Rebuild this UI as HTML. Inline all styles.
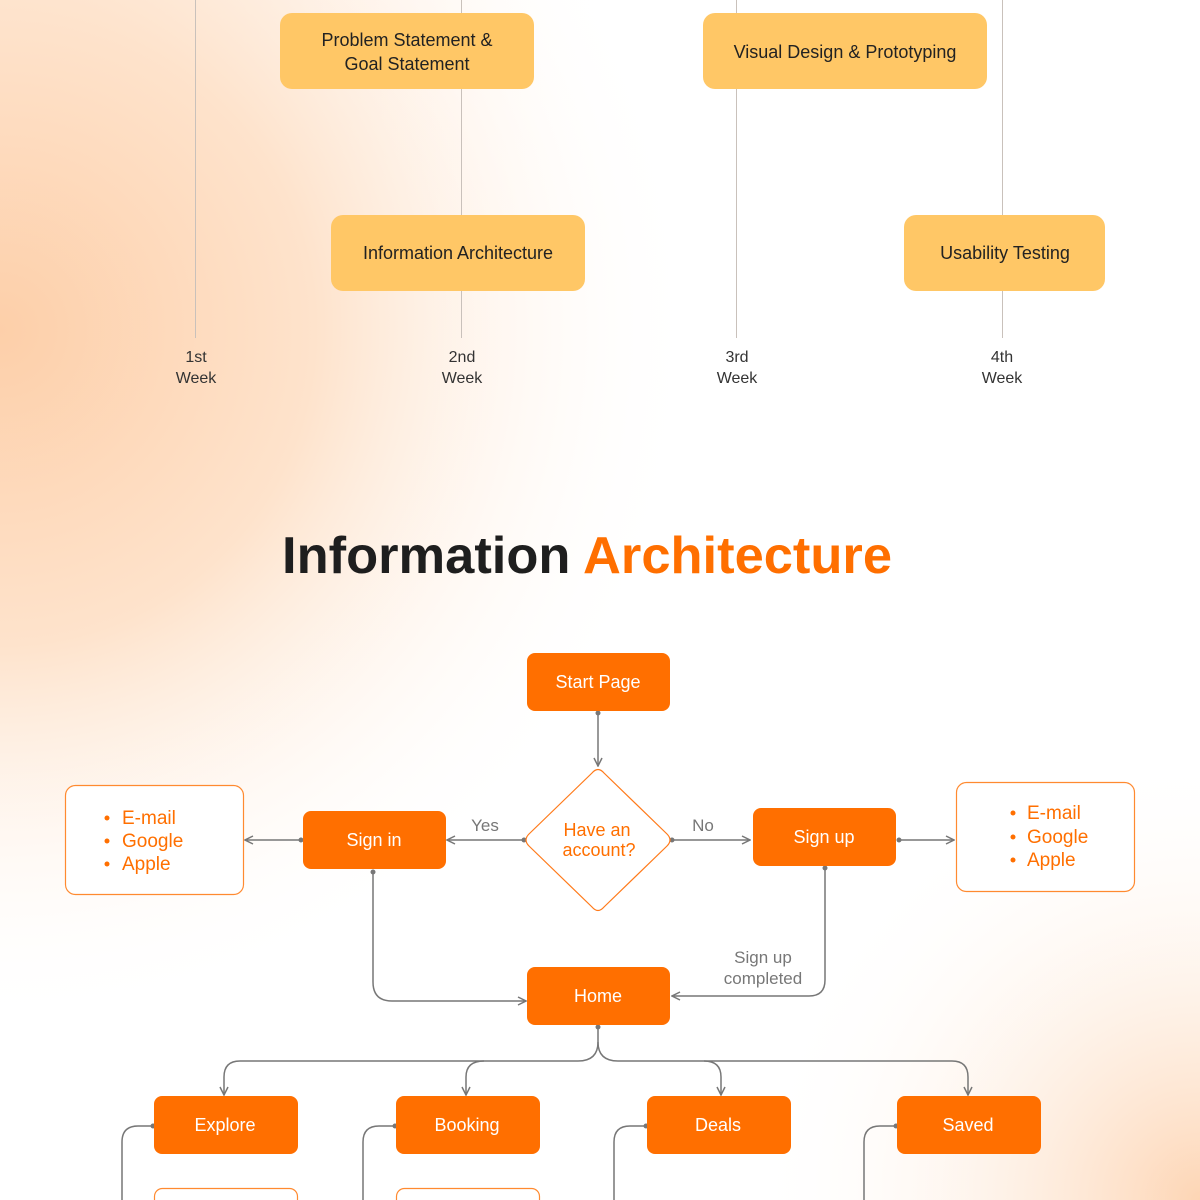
<!DOCTYPE html>
<html><head><meta charset="utf-8"><style>
html,body{margin:0;padding:0;width:1200px;height:1200px;overflow:hidden;}
body{background:#fff;}
svg{display:block;font-family:"Liberation Sans",sans-serif;}
</style></head><body>
<svg width="1200" height="1200" viewBox="0 0 1200 1200" xmlns="http://www.w3.org/2000/svg">
<defs>
<radialGradient id="g1" cx="0" cy="330" r="700" gradientUnits="userSpaceOnUse">
<stop offset="0" stop-color="#fdcfa9"/><stop offset="0.45" stop-color="#fee3cc"/><stop offset="1" stop-color="#fff" stop-opacity="0"/></radialGradient>
<radialGradient id="g2" cx="1200" cy="1200" r="450" gradientUnits="userSpaceOnUse">
<stop offset="0" stop-color="#fdd5b4"/><stop offset="1" stop-color="#fff" stop-opacity="0"/></radialGradient>
<radialGradient id="g3" cx="0" cy="0" r="600" gradientUnits="userSpaceOnUse">
<stop offset="0" stop-color="#fdd8bb"/><stop offset="1" stop-color="#fff" stop-opacity="0"/></radialGradient>
<marker id="ar" viewBox="0 0 10 10" refX="9" refY="5" markerWidth="10" markerHeight="10" markerUnits="userSpaceOnUse" orient="auto">
<path d="M1 1 L9 5 L1 9" fill="none" stroke="#777" stroke-width="1.5"/></marker>
<marker id="dt" viewBox="0 0 6 6" refX="3" refY="3" markerWidth="6" markerHeight="6" markerUnits="userSpaceOnUse"><circle cx="3" cy="3" r="2.5" fill="#777"/></marker>
</defs>
<rect width="1200" height="1200" fill="#fff"/>
<rect width="1200" height="1200" fill="url(#g3)"/>
<rect width="1200" height="1200" fill="url(#g1)"/>
<rect width="1200" height="1200" fill="url(#g2)"/>

<!-- timeline -->
<g stroke="#c9c1bb" stroke-width="1">
<line x1="195.5" y1="0" x2="195.5" y2="338"/>
<line x1="461.5" y1="0" x2="461.5" y2="338"/>
<line x1="736.5" y1="0" x2="736.5" y2="338"/>
<line x1="1002.5" y1="0" x2="1002.5" y2="338"/>
</g>
<g fill="#ffc766">
<rect x="280" y="13" width="254" height="76" rx="12"/>
<rect x="703" y="13" width="284" height="76" rx="12"/>
<rect x="331" y="215" width="254" height="76" rx="12"/>
<rect x="904" y="215" width="201" height="76" rx="12"/>
</g>
<g fill="#222" font-size="18" text-anchor="middle">
<text x="407" y="46">Problem Statement &amp;</text>
<text x="407" y="70">Goal Statement</text>
<text x="845" y="58">Visual Design &amp; Prototyping</text>
<text x="458" y="259">Information Architecture</text>
<text x="1005" y="259">Usability Testing</text>
</g>
<g fill="#333" font-size="16" text-anchor="middle">
<text x="196" y="362">1st</text><text x="196" y="383">Week</text>
<text x="462" y="362">2nd</text><text x="462" y="383">Week</text>
<text x="737" y="362">3rd</text><text x="737" y="383">Week</text>
<text x="1002" y="362">4th</text><text x="1002" y="383">Week</text>
</g>

<!-- title -->
<text x="282" y="573" font-size="52" font-weight="bold" textLength="610" lengthAdjust="spacingAndGlyphs" fill="#1e1e1e">Information <tspan fill="#ff6f00">Architecture</tspan></text>

<!-- connectors -->
<g fill="none" stroke="#777" stroke-width="1.5">
<path d="M598 713 V766" marker-start="url(#dt)" marker-end="url(#ar)"/>
<path d="M524 840 H447" marker-start="url(#dt)" marker-end="url(#ar)"/>
<path d="M672 840 H750" marker-start="url(#dt)" marker-end="url(#ar)"/>
<path d="M301 840 H245" marker-start="url(#dt)" marker-end="url(#ar)"/>
<path d="M899 840 H954" marker-start="url(#dt)" marker-end="url(#ar)"/>
<path d="M373 872 V982 Q373 1001 392 1001 H526" marker-start="url(#dt)" marker-end="url(#ar)"/>
<path d="M825 868 V980 Q825 996 809 996 H672" marker-start="url(#dt)" marker-end="url(#ar)"/>
<path d="M598 1027 V1042 Q598 1061 578 1061 H240 Q224 1061 224 1077 V1095" marker-start="url(#dt)" marker-end="url(#ar)"/>
<path d="M598 1042 Q598 1061 618 1061 H952 Q968 1061 968 1077 V1095" marker-end="url(#ar)"/>
<path d="M484 1061 Q466 1061 466 1077 V1095" marker-end="url(#ar)"/>
<path d="M704 1061 Q721 1061 721 1077 V1095" marker-end="url(#ar)"/>
<path d="M122 1200 V1142 Q122 1126 138 1126 H153" marker-end="url(#dt)"/>
<path d="M363 1200 V1142 Q363 1126 379 1126 H395" marker-end="url(#dt)"/>
<path d="M614 1200 V1142 Q614 1126 630 1126 H646" marker-end="url(#dt)"/>
<path d="M864 1200 V1142 Q864 1126 880 1126 H896" marker-end="url(#dt)"/>
</g>

<!-- nodes -->
<g fill="#ff6f00">
<rect x="527" y="653" width="143" height="58" rx="8"/>
<rect x="303" y="811" width="143" height="58" rx="8"/>
<rect x="753" y="808" width="143" height="58" rx="8"/>
<rect x="527" y="967" width="143" height="58" rx="8"/>
<rect x="154" y="1096" width="144" height="58" rx="8"/>
<rect x="396" y="1096" width="144" height="58" rx="8"/>
<rect x="647" y="1096" width="144" height="58" rx="8"/>
<rect x="897" y="1096" width="144" height="58" rx="8"/>
</g>
<path d="M592 773 Q598 766 604 773 L667 834 Q673 840 667 846 L604 907 Q598 914 592 907 L529 846 Q523 840 529 834 Z" fill="#fff" stroke="#ff7a1a" stroke-width="1.2"/>
<g fill="#fff" stroke="#ff8a30" stroke-width="1.2">
<rect x="65.5" y="785.5" width="178" height="109" rx="10"/>
<rect x="956.5" y="782.5" width="178" height="109" rx="10"/>
<rect x="154.5" y="1188.5" width="143" height="40" rx="8"/>
<rect x="396.5" y="1188.5" width="143" height="40" rx="8"/>
</g>
<g fill="#fff" font-size="18" text-anchor="middle">
<text x="598" y="688">Start Page</text>
<text x="374" y="846">Sign in</text>
<text x="824" y="843">Sign up</text>
<text x="598" y="1002">Home</text>
<text x="225" y="1131">Explore</text>
<text x="467" y="1131">Booking</text>
<text x="718" y="1131">Deals</text>
<text x="968" y="1131">Saved</text>
</g>
<g fill="#ff6f00" font-size="18" text-anchor="middle">
<text x="597" y="836">Have an</text>
<text x="599" y="856">account?</text>
</g>
<g fill="#ff6f00" font-size="19">
<circle cx="107" cy="818" r="2.5"/><text x="122" y="824">E-mail</text>
<circle cx="107" cy="841" r="2.5"/><text x="122" y="847">Google</text>
<circle cx="107" cy="864" r="2.5"/><text x="122" y="870">Apple</text>
<circle cx="1013" cy="813" r="2.5"/><text x="1027" y="819">E-mail</text>
<circle cx="1013" cy="837" r="2.5"/><text x="1027" y="843">Google</text>
<circle cx="1013" cy="860" r="2.5"/><text x="1027" y="866">Apple</text>
</g>
<g fill="#777" font-size="17" text-anchor="middle">
<text x="485" y="831">Yes</text>
<text x="703" y="831">No</text>
<text x="763" y="963">Sign up</text>
<text x="763" y="984">completed</text>
</g>
</svg>
</body></html>
